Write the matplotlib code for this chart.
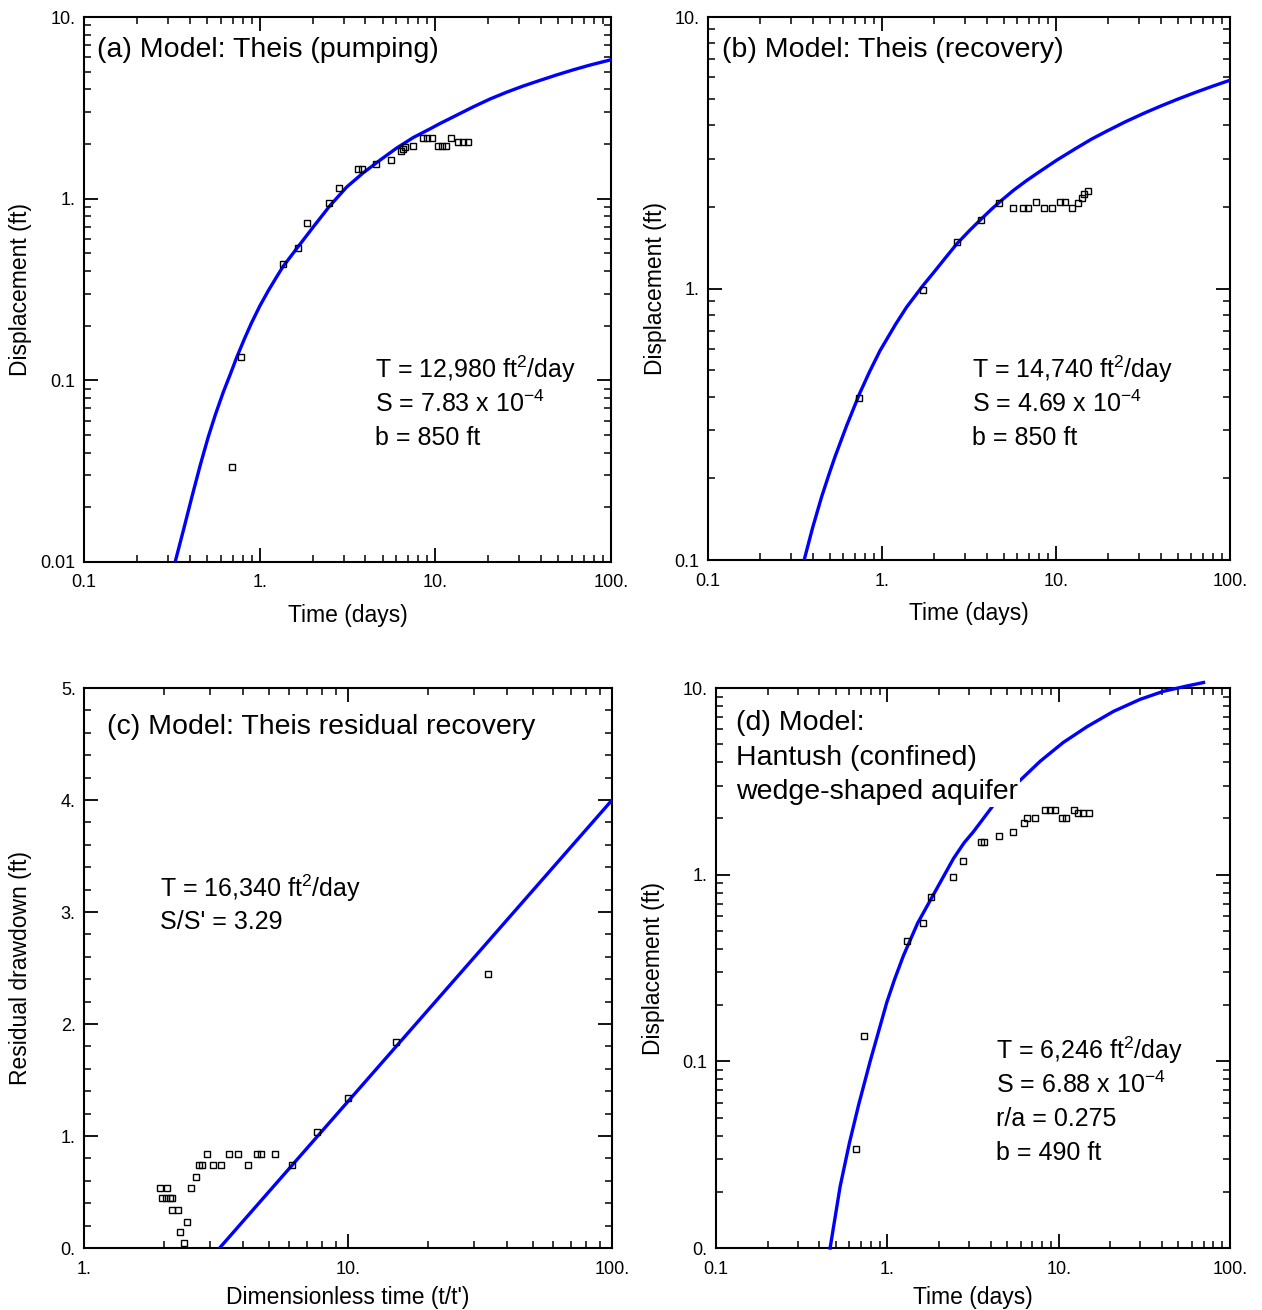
import numpy as np
import matplotlib
matplotlib.use("Agg")
import matplotlib.pyplot as plt
from matplotlib.ticker import FixedLocator, FixedFormatter, NullFormatter, LogLocator, MultipleLocator

plt.rcParams['font.family'] = ['Liberation Sans', 'DejaVu Sans']
plt.rcParams['mathtext.fontset'] = 'custom'
plt.rcParams['mathtext.rm'] = 'Liberation Sans'
plt.rcParams['mathtext.it'] = 'Liberation Sans:italic'
plt.rcParams['mathtext.bf'] = 'Liberation Sans:bold'

# (a) Theis pumping - observed
a_time = [0.693, 0.78, 1.357, 1.658, 1.858, 2.48, 2.84, 3.61, 3.81, 4.61, 5.59, 6.37, 6.51,
          6.74, 7.46, 8.53, 8.92, 9.52, 10.4, 10.9, 11.5, 12.2, 13.4, 14.4, 15.4]
a_disp = [0.0335, 0.135, 0.435, 0.537, 0.735, 0.95, 1.14, 1.457, 1.457, 1.55, 1.63, 1.84, 1.87,
          1.93, 1.95, 2.15, 2.15, 2.15, 1.95, 1.95, 1.95, 2.15, 2.05, 2.05, 2.05]
# (a) fitted curve
a_fit_time = [0.33, 0.37, 0.41, 0.46, 0.51, 0.56, 0.62, 0.68, 0.74, 0.82, 0.90, 1.0, 1.12, 1.25,
              1.357, 1.62, 2.02, 2.51, 3.13, 3.89, 4.84, 6.02, 7.48, 9.3, 10.6, 13.2, 16.4, 20.5,
              25.5, 31.6, 39.4, 49.0, 60.9, 75.9, 100.0]
a_fit_disp = [0.010, 0.0153, 0.0226, 0.0345, 0.0490, 0.0650, 0.0860, 0.108, 0.134, 0.170, 0.208,
              0.256, 0.312, 0.372, 0.423, 0.530, 0.700, 0.915, 1.16, 1.39, 1.63, 1.90, 2.17, 2.42,
              2.59, 2.88, 3.20, 3.54, 3.86, 4.17, 4.48, 4.80, 5.12, 5.44, 5.82]

# (b) Theis recovery
b_time = [0.74, 1.73, 2.69, 3.71, 4.69, 5.69, 6.49, 6.93, 7.64, 8.57, 9.52, 10.5, 11.3,
          12.4, 13.3, 14.1, 14.5, 15.3]
b_disp = [0.395, 0.99, 1.49, 1.79, 2.07, 1.98, 1.98, 1.98, 2.08, 1.98, 1.98, 2.08, 2.08,
          1.98, 2.07, 2.15, 2.22, 2.29]
b_fit_time = [0.357, 0.40, 0.45, 0.50, 0.537, 0.627, 0.747, 0.85, 0.974, 1.2, 1.387, 1.73, 1.97,
              2.3, 2.69, 3.2, 3.71, 4.3, 4.77, 5.7, 6.79, 8.09, 10.1, 13.0, 16.0, 19.6, 25.0,
              32.0, 40.0, 50.0, 63.0, 80.0, 100.0]
b_fit_disp = [0.100, 0.132, 0.171, 0.210, 0.240, 0.313, 0.413, 0.495, 0.590, 0.740, 0.855, 1.03,
              1.14, 1.29, 1.46, 1.64, 1.80, 1.97, 2.09, 2.30, 2.50, 2.70, 2.97, 3.28, 3.55, 3.80,
              4.11, 4.42, 4.70, 4.98, 5.27, 5.57, 5.85]

# (c) residual recovery
c_time = [1.94, 2.06, 1.97, 2.04, 2.12, 2.16, 2.16, 2.26, 2.45, 2.30, 2.39, 2.55, 2.66, 2.73,
          2.79, 2.92, 3.09, 3.30, 3.53, 3.83, 4.17, 4.50, 4.66, 5.31, 6.14, 7.60, 9.97, 15.2, 33.9]
c_draw = [0.538, 0.538, 0.444, 0.444, 0.444, 0.444, 0.339, 0.339, 0.235, 0.14, 0.042, 0.538,
          0.637, 0.741, 0.741, 0.842, 0.741, 0.741, 0.842, 0.842, 0.741, 0.842, 0.842, 0.842,
          0.741, 1.033, 1.337, 1.839, 2.444]
c_fit_time = [3.26, 100.0]
c_fit_draw = [0.0, 4.0]

# (d) Hantush wedge-shaped aquifer
d_time = [0.656, 0.734, 1.31, 1.62, 1.80, 2.41, 2.75, 3.52, 3.67, 4.51, 5.44, 6.31, 6.51, 7.28,
          8.33, 8.91, 9.53, 10.4, 11.1, 12.2, 13.0, 13.9, 15.1]
d_disp = [0.034, 0.137, 0.443, 0.55, 0.76, 0.97, 1.18, 1.49, 1.49, 1.61, 1.70, 1.90, 2.02, 2.02,
          2.22, 2.22, 2.22, 2.02, 2.02, 2.22, 2.13, 2.13, 2.13]
d_fit_time = [0.463, 0.53, 0.60, 0.68, 0.793, 0.992, 1.1, 1.24, 1.5, 1.80, 2.43, 2.8, 3.18, 4.16,
              5.0, 5.95, 7.79, 10.6, 14.6, 20.9, 29.9, 40.8, 55.9, 70.0]
d_fit_disp = [0.010, 0.0214, 0.0365, 0.0587, 0.100, 0.207, 0.274, 0.368, 0.549, 0.743, 1.22,
              1.48, 1.70, 2.36, 2.80, 3.20, 4.05, 5.10, 6.20, 7.50, 8.70, 9.60, 10.25, 10.7]

time_ticks = [0.1, 1, 10, 100]
time_labels = ["0.1", "1.", "10.", "100."]

BLUE = "#0000ff"


def style(ax):
    for sp in ax.spines.values():
        sp.set_linewidth(1.5)
    ax.tick_params(which="both", direction="in", top=True, right=True, labelsize=13)
    ax.tick_params(which="major", length=10, width=1.3, pad=6)
    ax.tick_params(which="minor", length=5, width=1.1)
    ax.tick_params(axis="x", which="major", pad=9)


def log_axis(axis, ticks, labels):
    axis.set_major_locator(FixedLocator(ticks))
    axis.set_major_formatter(FixedFormatter(labels))
    axis.set_minor_locator(LogLocator(base=10, subs=np.arange(2, 10)))
    axis.set_minor_formatter(NullFormatter())


def plot_obs(ax, x, y):
    ax.plot(x, y, "s", ms=4.5, mfc="none", mec="black", mew=1.0, zorder=4, clip_on=False)


fig = plt.figure(figsize=(12.62, 13.10), dpi=100)
ax_a = fig.add_axes([0.0666, 0.571, 0.4176, 0.416])
ax_b = fig.add_axes([0.561, 0.5725, 0.4136, 0.4145])
ax_c = fig.add_axes([0.0666, 0.0473, 0.4184, 0.4275])
ax_d = fig.add_axes([0.5674, 0.0473, 0.4073, 0.4275])

txt = dict(fontsize=18, va="center", ha="left")
ttl = dict(fontsize=20.5, va="center", ha="left")
lab = 16.5

# (a)
ax_a.plot(a_fit_time, a_fit_disp, color=BLUE, lw=2.4, zorder=3)
plot_obs(ax_a, a_time, a_disp)
ax_a.set_xscale("log")
ax_a.set_yscale("log")
ax_a.set_xlim(0.1, 100)
ax_a.set_ylim(0.01, 10)
log_axis(ax_a.xaxis, time_ticks, time_labels)
log_axis(ax_a.yaxis, [0.01, 0.1, 1, 10], ["0.01", "0.1", "1.", "10."])
ax_a.set_xlabel("Time (days)", fontsize=lab)
ax_a.set_ylabel("Displacement (ft)", fontsize=lab)
ax_a.text(0.025, 0.939, "(a) Model: Theis (pumping)", transform=ax_a.transAxes, **ttl)
ax_a.text(0.552, 0.354, r"T = 12,980 ft$^2$/day", transform=ax_a.transAxes, **txt)
ax_a.text(0.552, 0.29, r"S = 7.83 x 10$^{-4}$", transform=ax_a.transAxes, **txt)
ax_a.text(0.552, 0.2275, "b = 850 ft", transform=ax_a.transAxes, **txt)

# (b)
ax_b.plot(b_fit_time, b_fit_disp, color=BLUE, lw=2.4, zorder=3)
plot_obs(ax_b, b_time, b_disp)
ax_b.set_xscale("log")
ax_b.set_yscale("log")
ax_b.set_xlim(0.1, 100)
ax_b.set_ylim(0.1, 10)
log_axis(ax_b.xaxis, time_ticks, time_labels)
log_axis(ax_b.yaxis, [0.1, 1, 10], ["0.1", "1.", "10."])
ax_b.set_xlabel("Time (days)", fontsize=lab)
ax_b.set_ylabel("Displacement (ft)", fontsize=lab)
ax_b.text(0.027, 0.939, "(b) Model: Theis (recovery)", transform=ax_b.transAxes, **ttl)
ax_b.text(0.506, 0.352, r"T = 14,740 ft$^2$/day", transform=ax_b.transAxes, **txt)
ax_b.text(0.506, 0.287, r"S = 4.69 x 10$^{-4}$", transform=ax_b.transAxes, **txt)
ax_b.text(0.506, 0.2247, "b = 850 ft", transform=ax_b.transAxes, **txt)

# (c)
ax_c.plot(c_fit_time, c_fit_draw, color=BLUE, lw=2.4, zorder=3)
plot_obs(ax_c, c_time, c_draw)
ax_c.set_xscale("log")
ax_c.set_xlim(1, 100)
ax_c.set_ylim(0, 5)
log_axis(ax_c.xaxis, [1, 10, 100], ["1.", "10.", "100."])
ax_c.yaxis.set_major_locator(FixedLocator([0, 1, 2, 3, 4, 5]))
ax_c.yaxis.set_major_formatter(FixedFormatter(["0.", "1.", "2.", "3.", "4.", "5."]))
ax_c.yaxis.set_minor_locator(MultipleLocator(0.2))
ax_c.set_xlabel("Dimensionless time (t/t')", fontsize=lab)
ax_c.set_ylabel("Residual drawdown (ft)", fontsize=lab)
ax_c.text(0.0436, 0.930, "(c) Model: Theis residual recovery", transform=ax_c.transAxes, **ttl)
ax_c.text(0.144, 0.643, r"T = 16,340 ft$^2$/day", transform=ax_c.transAxes, **txt)
ax_c.text(0.144, 0.582, "S/S' = 3.29", transform=ax_c.transAxes, **txt)

# (d)
ax_d.plot(d_fit_time, d_fit_disp, color=BLUE, lw=2.4, zorder=3, clip_on=False)
plot_obs(ax_d, d_time, d_disp)
ax_d.set_xscale("log")
ax_d.set_yscale("log")
ax_d.set_xlim(0.1, 100)
ax_d.set_ylim(0.01, 10)
log_axis(ax_d.xaxis, time_ticks, time_labels)
log_axis(ax_d.yaxis, [0.01, 0.1, 1, 10], ["0.", "0.1", "1.", "10."])
ax_d.set_xlabel("Time (days)", fontsize=lab)
ax_d.set_ylabel("Displacement (ft)", fontsize=lab)
ax_d.text(0.039, 0.9375, "(d) Model:", transform=ax_d.transAxes, **ttl)
ax_d.text(0.039, 0.875, "Hantush (confined)", transform=ax_d.transAxes, **ttl)
ax_d.text(0.039, 0.814, "wedge-shaped aquifer", transform=ax_d.transAxes, zorder=5,
          bbox=dict(facecolor="white", edgecolor="none", pad=1.5), **ttl)
ax_d.text(0.545, 0.3536, r"T = 6,246 ft$^2$/day", transform=ax_d.transAxes, **txt)
ax_d.text(0.545, 0.291, r"S = 6.88 x 10$^{-4}$", transform=ax_d.transAxes, **txt)
ax_d.text(0.545, 0.2304, "r/a = 0.275", transform=ax_d.transAxes, **txt)
ax_d.text(0.545, 0.1696, "b = 490 ft", transform=ax_d.transAxes, **txt)

for ax in (ax_a, ax_b, ax_c, ax_d):
    style(ax)

ax_a.yaxis.set_label_coords(-0.099, 0.5)
ax_b.yaxis.set_label_coords(-0.079, 0.5)
ax_c.yaxis.set_label_coords(-0.099, 0.5)
ax_d.yaxis.set_label_coords(-0.099, 0.5)
ax_a.xaxis.set_label_coords(0.5, -0.077)
ax_b.xaxis.set_label_coords(0.5, -0.077)
ax_c.xaxis.set_label_coords(0.5, -0.068)
ax_d.xaxis.set_label_coords(0.5, -0.068)

fig.savefig("out.png", dpi=100)
